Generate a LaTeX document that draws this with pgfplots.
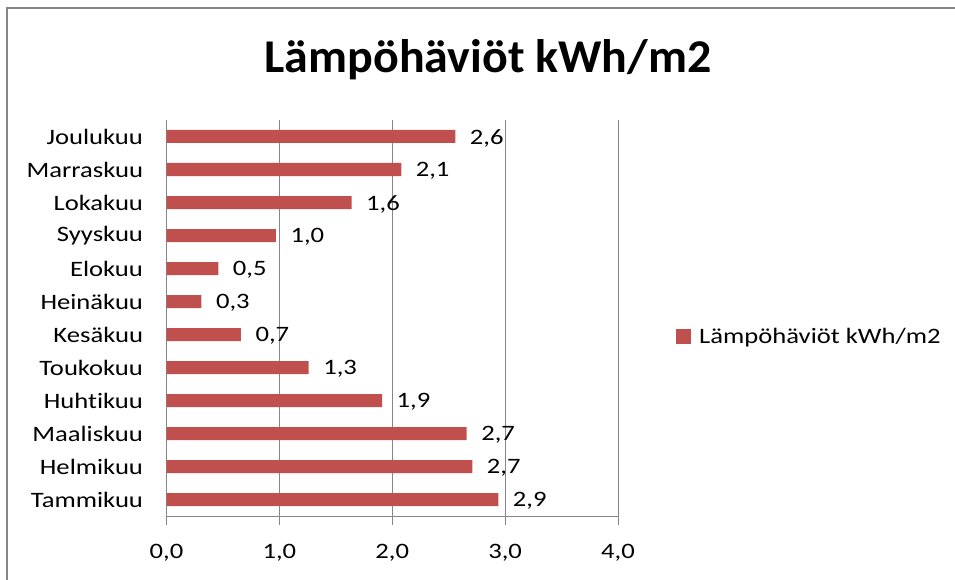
\documentclass[border=0pt]{standalone}
\usepackage{fontspec}
\setmainfont{Carlito}[FakeStretch=1.21, Ligatures=NoCommon]
\newfontfamily\titlefont{Carlito}[FakeStretch=1.02, Ligatures=NoCommon]
\usepackage{pgfplots}
\pgfplotsset{compat=1.18}
\definecolor{barred}{RGB}{192,80,77}
\definecolor{axisgray}{RGB}{134,134,134}
\newcommand\lab{\fontsize{22}{26}\selectfont}

\begin{document}
\begin{tikzpicture}[x=1pt,y=1pt]
\useasboundingbox (0,0) rectangle (955,579);
% chart frame (only left and top edges are visible)
\draw[axisgray, line width=2pt] (7,-10) -- (7,571) -- (970,571);
\node[font=\titlefont\bfseries\fontsize{47}{53}\selectfont, anchor=base] at (488,506) {Lämpöhäviöt kWh/m2};

\begin{axis}[
    at={(166.5pt,63pt)}, anchor=south west,
    scale only axis,
    width=451.5pt, height=396pt,
    xbar, bar width=13pt,
    xmin=0, xmax=4,
    ymin=-0.5, ymax=11.5,
    axis x line*=bottom, axis y line*=left,
    axis line style={axisgray, line width=1pt},
    xtick={0,1,2,3,4},
    ytick={0,...,11},
    yticklabels={Tammikuu,Helmikuu,Maaliskuu,Huhtikuu,Toukokuu,Kesäkuu,Heinäkuu,Elokuu,Syyskuu,Lokakuu,Marraskuu,Joulukuu},
    minor ytick={-0.5,0.5,...,11.5},
    tick align=outside,
    major tick length=9pt,
    minor tick length=6pt,
    ytick style={draw=none},
    minor y tick style={axisgray, line width=1pt},
    xtick style={axisgray, line width=1pt},
    xmajorgrids,
    grid style={axisgray, line width=1pt},
    /pgf/number format/assume math mode=true,
    xticklabel={\pgfmathprintnumber[fixed,fixed zerofill,precision=1,use comma]{\tick}},
    tick label style={font=\lab, black},
    xticklabel style={yshift=-16pt},
    yticklabel style={xshift=-11pt},
    nodes near coords={\pgfmathprintnumber[fixed,fixed zerofill,precision=1,use comma,assume math mode=true]{\pgfplotspointmeta}},
    nodes near coords align={horizontal},
    every node near coord/.append style={font=\lab, black, xshift=11pt, yshift=-1.5pt},
    legend style={draw=none, fill=none, at={(1.1285,0.4533)}, anchor=west,
        inner sep=0pt, font=\lab},
    legend image code/.code={\fill[barred] (0pt,-7.5pt) rectangle (15pt,7.5pt);},
    /tikz/every odd column/.append style={column sep=6pt},
]
\addplot[fill=barred, draw=none] coordinates {
    (2.94,0) (2.71,1) (2.66,2) (1.91,3) (1.26,4) (0.66,5)
    (0.31,6) (0.46,7) (0.97,8) (1.64,9) (2.08,10) (2.56,11)
};
\legend{Lämpöhäviöt kWh/m2}
\end{axis}
\end{tikzpicture}
\end{document}
